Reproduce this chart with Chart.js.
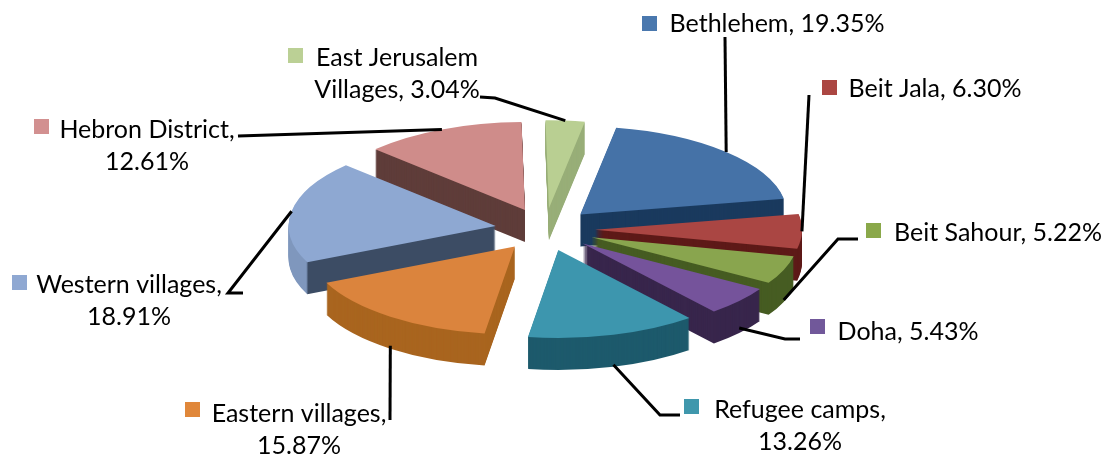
<!DOCTYPE html>
<html>
<head>
<meta charset="utf-8">
<title>Share by area</title>
<script src="https://cdn.jsdelivr.net/npm/chart.js@4/dist/chart.umd.min.js"></script>
<style>
  html, body { margin: 0; padding: 0; background: #fff; }
  #box { width: 1104px; height: 455px; }
</style>
</head>
<body>
<div id="box"><canvas id="pie" width="1104" height="455"></canvas></div>
<script>
// values, clockwise from Bethlehem
var categories = ['Bethlehem', 'Beit Jala', 'Beit Sahour', 'Doha', 'Refugee camps',
  'Eastern villages', 'Western villages', 'Hebron District', 'East Jerusalem Villages'];
var shares = [19.35, 6.30, 5.22, 5.43, 13.26, 15.87, 18.91, 12.61, 3.04];

var topColors = ['#4572a7', '#aa4643', '#89a54e', '#75539b', '#3d96ae', '#db843d', '#8ea8d2', '#cf8c8a', '#b9cf92'];
var wallColors = ['#1a3a5e', '#5e1a18', '#465c22', '#38264c', '#1d5a6c', '#a9651f', '#3c4c64', '#5f3d3a', '#98ae78'];
var swatchColors = ['#4a78ae', '#ab4642', '#8aa84a', '#71589a', '#3f97ac', '#e0873a', '#8fa8d2', '#d29090', '#bbd095'];

// pseudo 3D settings
var squash = 0.425;
var depth = 32;
var explode = 50; // pixels each slice is pulled out, done here because arc offset also grows small slices

// label layout: text centre, first baseline, swatch corner, words on line one, leader bends
var labelX = [777, 935, 998, 908, 800, 299, 129, 147, 397];
var labelY = [32, 97, 241, 340, 418, 422, 293, 138, 66];
var swatchX = [642, 822, 866, 810, 684, 185, 12, 34, 288];
var swatchY = [16, 80, 223, 319, 399, 402, 275, 119, 48];
var wrapWords = [0, 0, 0, 0, 2, 2, 2, 2, 2];
var leaderBends = [
  [[725, 37]],
  [[809, 95]],
  [[858, 239], [838, 239]],
  [[800, 339], [785, 339]],
  [[680, 415], [660, 415]],
  [[390, 420]],
  [[243, 293], [228, 293]],
  [[238, 136]],
  [[480, 97], [495, 98]]
];
var leaderDrop = [0, 0, 30, 27, 30, 29, 0, 0, 0];

function midAngle(arc) {
  return (arc.startAngle + arc.endAngle) / 2;
}

// puts ctx in the tilted plane, with the slice pulled out from the centre
function tilt(ctx, arc, drop) {
  var mid = midAngle(arc);
  ctx.translate(0, drop + arc.y * (1 - squash));
  ctx.scale(1, squash);
  ctx.translate(explode * Math.cos(mid), explode * Math.sin(mid));
}

function drawWall(ctx, arc, i) {
  var orig = arc.options;
  var fill = wallColors[i];
  if (categories[i] === 'Western villages') {
    // the rounded side catches more light than the cut side
    // gradient is in the slice's own coordinates, so no explode here
    var x = arc.x + arc.outerRadius * Math.cos(arc.startAngle);
    fill = ctx.createLinearGradient(x - 1, 0, x + 1, 0);
    fill.addColorStop(0, '#7f97bd');
    fill.addColorStop(1, wallColors[i]);
  }
  arc.options = Object.assign({}, orig, { backgroundColor: fill });
  for (var k = depth; k >= 1; k--) {
    ctx.save();
    tilt(ctx, arc, k);
    arc.draw(ctx);
    ctx.restore();
  }
  arc.options = orig;
}

var tiltPlugin = {
  id: 'tilt',
  beforeDatasetsDraw: function (chart) {
    var ctx = chart.ctx;
    var arcs = chart.getDatasetMeta(0).data;
    // back slices first
    var order = arcs.map(function (a, i) { return i; }).sort(function (p, q) {
      return Math.sin(midAngle(arcs[p])) - Math.sin(midAngle(arcs[q]));
    });
    order.forEach(function (i) { drawWall(ctx, arcs[i], i); });
    arcs.forEach(function (arc) {
      ctx.save();
      tilt(ctx, arc, 0);
      arc.draw(ctx);
      ctx.restore();
    });
    return false;
  },
  afterDraw: function (chart) {
    var ctx = chart.ctx;
    chart.getDatasetMeta(0).data.forEach(function (arc, i) {
      // leader runs from the label to the middle of the slice's outer edge
      var mid = midAngle(arc);
      var r = arc.outerRadius + explode;
      var ex = arc.x + r * Math.cos(mid);
      var ey = arc.y + r * Math.sin(mid) * squash + leaderDrop[i];
      ctx.beginPath();
      leaderBends[i].forEach(function (p, n) {
        if (n === 0) ctx.moveTo(p[0], p[1]); else ctx.lineTo(p[0], p[1]);
      });
      ctx.lineTo(ex, ey);
      ctx.strokeStyle = '#000';
      ctx.lineWidth = 3;
      ctx.stroke();

      ctx.fillStyle = swatchColors[i];
      ctx.fillRect(swatchX[i], swatchY[i], 15, 15);

      var words = (categories[i] + ', ' + shares[i].toFixed(2) + '%').split(' ');
      var lines = wrapWords[i] ? [words.slice(0, wrapWords[i]).join(' '), words.slice(wrapWords[i]).join(' ')] : [words.join(' ')];
      ctx.fillStyle = '#000';
      ctx.font = '25px Lato';
      ctx.textAlign = 'center';
      lines.forEach(function (t, n) {
        ctx.fillText(t, labelX[i], labelY[i] + n * 32);
      });
    });
  }
};

var pieChart = new Chart(document.getElementById('pie'), {
  type: 'pie',
  data: {
    labels: categories,
    datasets: [{
      data: shares,
      backgroundColor: topColors,
      borderWidth: 0
    }]
  },
  options: {
    responsive: false,
    animation: false,
    rotation: 10,
    radius: 207,
    layout: { padding: { right: 14, top: 4 } },
    events: [],
    plugins: {
      legend: { display: false },
      tooltip: { enabled: false }
    }
  },
  plugins: [tiltPlugin]
});
</script>
</body>
</html>
